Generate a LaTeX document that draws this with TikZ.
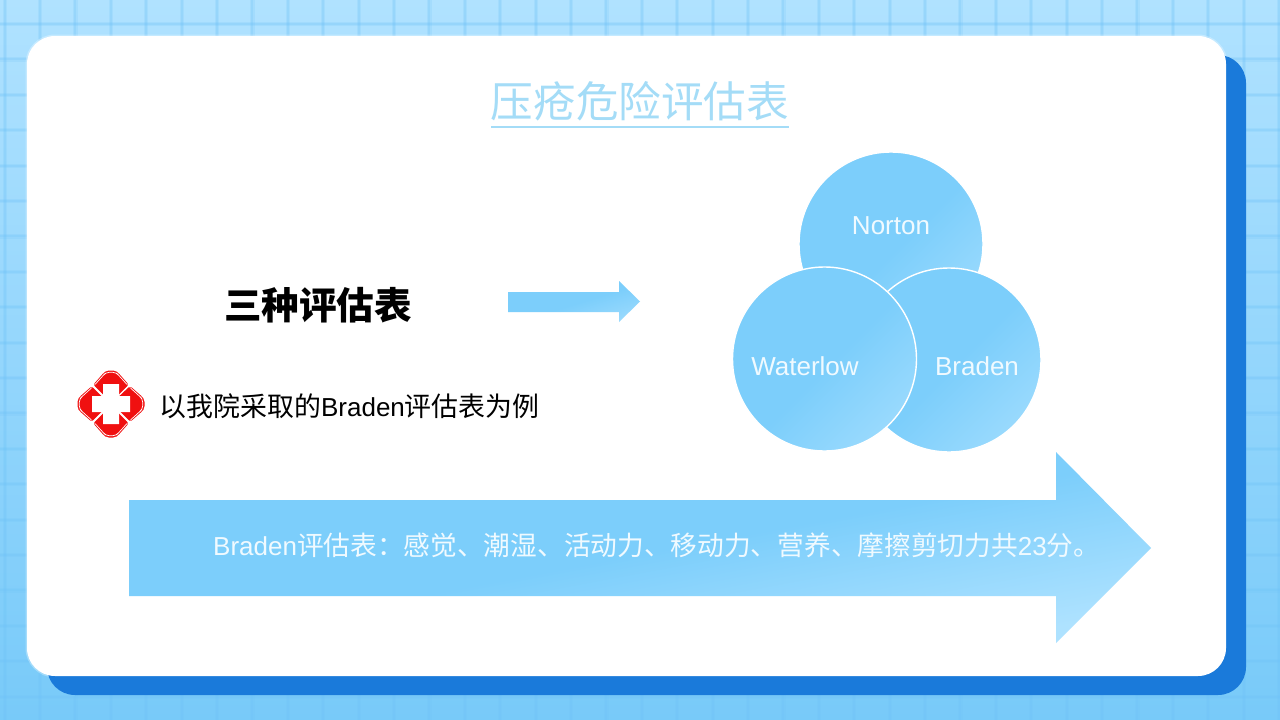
\documentclass[tikz,border=0pt]{standalone}
\usepackage{fontspec}
\setmainfont{Liberation Sans}
\newfontfamily\cjkbase{Noto Sans CJK SC}
\newcommand{\cjk}{\cjkbase\fontsize{26.9}{30}\selectfont}
\newcommand{\cjkb}{\cjkbase\fontsize{26.7}{30}\selectfont}
\newcommand{\lat}{\rmfamily\fontsize{26}{30}\selectfont}
\definecolor{bgtop}{HTML}{B0E2FF}
\definecolor{bgbot}{HTML}{78CAF9}
\definecolor{gridc}{HTML}{6FC3F8}
\definecolor{shadowc}{HTML}{1A7ADA}
\definecolor{fillc}{HTML}{7CCEFB}
\definecolor{filld}{HTML}{AEE2FF}
\definecolor{titlec}{HTML}{A4DCF7}
\definecolor{softw}{HTML}{F0FAFF}
\definecolor{redc}{HTML}{F01010}
\pgfdeclarehorizontalshading{softfill}{100bp}{color(0bp)=(fillc); color(52bp)=(fillc); color(92bp)=(filld); color(100bp)=(filld)}
\pgfdeclarehorizontalshading{softlong}{100bp}{color(0bp)=(fillc); color(51bp)=(fillc); color(74bp)=(filld); color(100bp)=(filld)}
\tikzset{
  softshade/.style={shading=softfill,shading angle=#1},
  bub/.style={circle,draw=white,line width=1.4pt,minimum size=184pt,inner sep=0pt,softshade=-45},
  bubtext/.style={font=\lat,text=softw,inner sep=0pt},
  lobe/.style={fill=redc,draw=none,rounded corners=2pt},
  lobeline/.style={draw=white,line width=.7pt,rounded corners=2pt},
  gridwide/.style={gridc,opacity=.18,line width=4.2pt},
  gridnarrow/.style={gridc,opacity=.22,line width=2pt}
}
\begin{document}
\begin{tikzpicture}[x=1pt,y=-1pt]
\useasboundingbox (0,0) rectangle (1280,720);
\shade[top color=bgtop,bottom color=bgbot] (0,0) rectangle (1280,720);
\foreach \k in {-1,...,35} {
  \draw[gridwide] ({40+35.4*\k},0) -- ({40+35.4*\k},720);
  \draw[gridnarrow] ({40+35.4*\k},0) -- ({40+35.4*\k},720);
}
\foreach \k in {0,...,19} {
  \draw[gridwide] (0,{24+35.4*\k}) -- (1280,{24+35.4*\k});
  \draw[gridnarrow] (0,{24+35.4*\k}) -- (1280,{24+35.4*\k});
}
\draw[white,opacity=.3,line width=3pt,rounded corners=28pt] (27,36) rectangle (1226,676);
\fill[shadowc,rounded corners=28pt] (47,55) rectangle (1246,695);
\fill[white,rounded corners=28pt] (27,36) rectangle (1226,676);
% title
\node[font=\cjkbase\fontsize{42.6}{46}\selectfont,text=titlec,inner sep=0pt] (title) at (640,101) {压疮危险评估表};
\fill[titlec] (491,125.5) rectangle (789,127.5);
% left text
\node[font=\cjkbase\bfseries\fontsize{37.6}{40}\selectfont,text=black,inner sep=0pt] (three) at (318,305) {三种评估表};
\node[text=black,inner sep=0pt,anchor=west] (note) at (159.5,406) {\cjk 以我院采取的\lat Braden\cjk 评估表为例};
% small arrow
\path[softshade=-73] (508,292) -- (619,292) -- (619,281) -- (640,301.5) -- (619,322) -- (619,312) -- (508,312) -- cycle;
% icon
\begin{scope}[shift={(111,404)}]
\foreach \a in {0,90,180,270}{
  \begin{scope}[rotate=\a]
    \fill[lobe] (0,0) -- (-18,-19) -- (-7,-31.5) -- (-4,-33.5) -- (4,-33.5) -- (7,-31.5) -- (18,-19) -- cycle;
    \draw[lobeline] (-16,-19.5) -- (-6.5,-30) -- (-3.5,-31.8) -- (3.5,-31.8) -- (6.5,-30) -- (16,-19.5);
    \draw[white,line width=2pt] (0,0) -- (19.5,-19.5);
  \end{scope}
}
\fill[white] (-8,-20) -- (8,-20) -- (8,-8) -- (19,-8) -- (19,8) -- (8,8) -- (8,20) -- (-8,20) -- (-8,8) -- (-19,8) -- (-19,-8) -- (-8,-8) -- cycle;
\end{scope}
% bubbles
\node[bub] (norton) at (891,244) {};
\node[bub] (braden) at (949,360) {};
\node[bub] (waterlow) at (824.5,359) {};
\node[bubtext] (nortont) at (891,226) {Norton};
\node[bubtext] (bradent) at (977,366) {Braden};
\node[bubtext] (waterlowt) at (805,366) {Waterlow};
% big arrow
\path[shading=softlong,shading angle=-79.4] (129,500) -- (1056,500) -- (1056,452) -- (1151,548) -- (1056,643) -- (1056,596) -- (129,596) -- cycle;
\node[text=softw,inner sep=0pt,anchor=west] (bigt) at (213,545) {\lat Braden\cjkb 评估表：感觉、潮湿、活动力、移动力、营养、摩擦剪切力共\lat 23\cjkb 分。};
\end{tikzpicture}
\end{document}
